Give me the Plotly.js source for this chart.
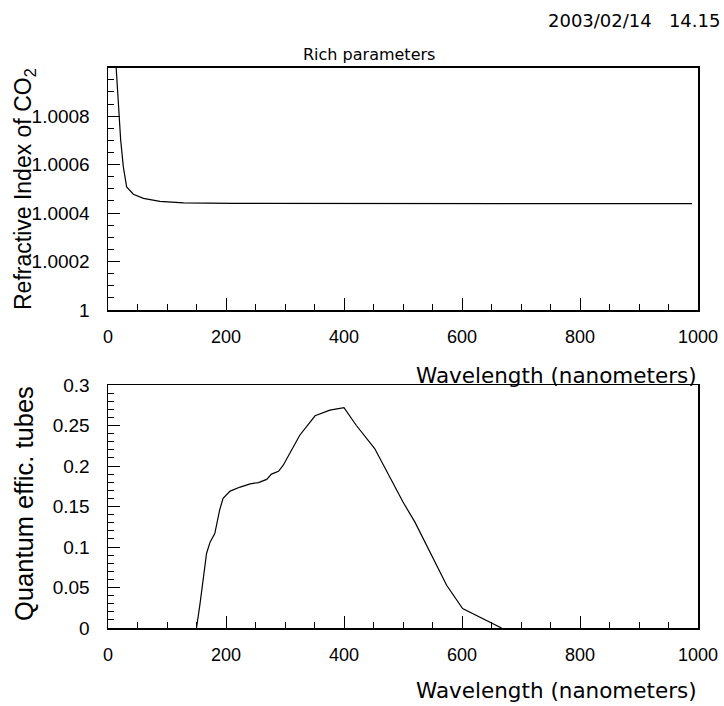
<!DOCTYPE html>
<html><head><meta charset="utf-8">
<script src="https://cdn.plot.ly/plotly-3.0.1.min.js"></script>
<style>html,body{margin:0;padding:0;background:#fff}#chart{width:724px;height:706px}</style>
</head><body><div id="chart"></div>
<script>
// Top panel: refractive index of CO2 vs wavelength (nm)
const riWavelength = [10, 13.6, 17.5, 21.5, 26, 31.6, 43, 60, 88, 128, 212, 300, 450, 600, 800, 990];
const riValue = [1.00115, 1.001, 1.000838, 1.000701, 1.000591, 1.000508, 1.000478, 1.000461, 1.000448, 1.000442, 1.00044, 1.00044, 1.00044, 1.000439, 1.000439, 1.000439];

// Bottom panel: quantum efficiency of tubes vs wavelength (nm)
const qeWavelength = [150, 156, 167, 173, 181, 189, 195, 207, 224, 241, 255, 269, 277, 289, 297, 311, 325, 351, 362, 376, 400, 421, 452, 478, 500, 520, 546, 574, 601, 630, 653, 667];
const qeValue = [0, 0.030, 0.092, 0.106, 0.1165, 0.145, 0.160, 0.169, 0.174, 0.178, 0.1795, 0.1835, 0.190, 0.1935, 0.201, 0.219, 0.238, 0.262, 0.265, 0.269, 0.272, 0.250, 0.2215, 0.1865, 0.1555, 0.131, 0.094, 0.0527, 0.024, 0.0136, 0.0046, 0];

const xTickVals = [0, 200, 400, 600, 800, 1000];
const xTickText = ['0', '200', '400', '600', '800', '1000'];
const riTickVals = [1, 1.0002, 1.0004, 1.0006, 1.0008];
const riTickText = ['1', '1.0002', '1.0004', '1.0006', '1.0008'];
const qeTickVals = [0, 0.05, 0.1, 0.15, 0.2, 0.25, 0.3];
const qeTickText = ['0', '0.05', '0.1', '0.15', '0.2', '0.25', '0.3'];

const FONT = 'Liberation Sans, Arial, sans-serif';
const TFONT = 'DejaVu Sans, sans-serif';

const traces = [
  {x: riWavelength, y: riValue, xaxis: 'x', yaxis: 'y', mode: 'lines', line: {color: '#000', width: 1.2}, hoverinfo: 'skip'},
  {x: qeWavelength, y: qeValue, xaxis: 'x2', yaxis: 'y2', mode: 'lines', line: {color: '#000', width: 1.2}, hoverinfo: 'skip'}
];

function xa(anchor) {
  return {
    domain: [108/724, 698/724], anchor: anchor, range: [0, 1000],
    showline: true, mirror: true, linecolor: '#000', linewidth: 1.5,
    showgrid: false, zeroline: false,
    ticks: 'inside', ticklen: 12, tickwidth: 1, tickcolor: '#000',
    tickvals: xTickVals, ticktext: xTickText,
    tickfont: {family: FONT, size: 18, color: '#000'},
    ticklabelstandoff: 10,
    minor: {ticks: 'inside', ticklen: 6, dtick: 50, tick0: 0, tickcolor: '#000', tickwidth: 1, showgrid: false}
  };
}
function ya(anchor, dom, range, tv, tt, minorD) {
  return {
    domain: dom, anchor: anchor, range: range,
    showline: true, mirror: true, linecolor: '#000', linewidth: 1.5,
    showgrid: false, zeroline: false,
    ticks: 'inside', ticklen: 12, tickwidth: 1, tickcolor: '#000',
    tickvals: tv, ticktext: tt,
    tickfont: {family: FONT, size: 19, color: '#000'},
    ticklabelstandoff: 13,
    minor: {ticks: 'inside', ticklen: 6, dtick: minorD, tick0: range[0], tickcolor: '#000', tickwidth: 1, showgrid: false}
  };
}

const layout = {
  width: 724, height: 706,
  margin: {l: 0, r: 0, t: 0, b: 0},
  paper_bgcolor: '#fff', plot_bgcolor: '#fff',
  showlegend: false,
  xaxis: xa('y'),
  yaxis: ya('x', [1 - 310/706, 1 - 67.7/706], [1, 1.001], riTickVals, riTickText, 0.00005),
  xaxis2: xa('y2'),
  yaxis2: ya('x2', [1 - 628/706, 1 - 385/706], [0, 0.3], qeTickVals, qeTickText, 0.01),
  annotations: [
    {text: '2003/02/14   14.15', xref: 'paper', yref: 'paper', x: 722/724, y: 1 - 20/706, xanchor: 'right', yanchor: 'middle', showarrow: false, font: {family: TFONT, size: 18, color: '#000'}},
    {text: 'Rich parameters', xref: 'paper', yref: 'paper', x: 369/724, y: 1 - 55/706, xanchor: 'center', yanchor: 'middle', showarrow: false, font: {family: TFONT, size: 16, color: '#000'}},
    {text: 'Wavelength (nanometers)', xref: 'paper', yref: 'paper', x: 699/724, y: 1 - 375/706, xanchor: 'right', yanchor: 'middle', showarrow: false, font: {family: TFONT, size: 21.5, color: '#000'}},
    {text: 'Wavelength (nanometers)', xref: 'paper', yref: 'paper', x: 699/724, y: 1 - 690/706, xanchor: 'right', yanchor: 'middle', showarrow: false, font: {family: TFONT, size: 21.5, color: '#000'}},
    {text: 'Refractive Index of CO<sub>2</sub>', xref: 'paper', yref: 'paper', x: 24/724, y: 1 - 189/706, xanchor: 'center', yanchor: 'middle', textangle: -90, showarrow: false, font: {family: FONT, size: 23, color: '#000'}},
    {text: 'Quantum effic. tubes', xref: 'paper', yref: 'paper', x: 24/724, y: 1 - 504/706, xanchor: 'center', yanchor: 'middle', textangle: -90, showarrow: false, font: {family: FONT, size: 25.5, color: '#000'}}
  ]
};

Plotly.newPlot('chart', traces, layout, {displayModeBar: false, staticPlot: true});
</script>
</body></html>
